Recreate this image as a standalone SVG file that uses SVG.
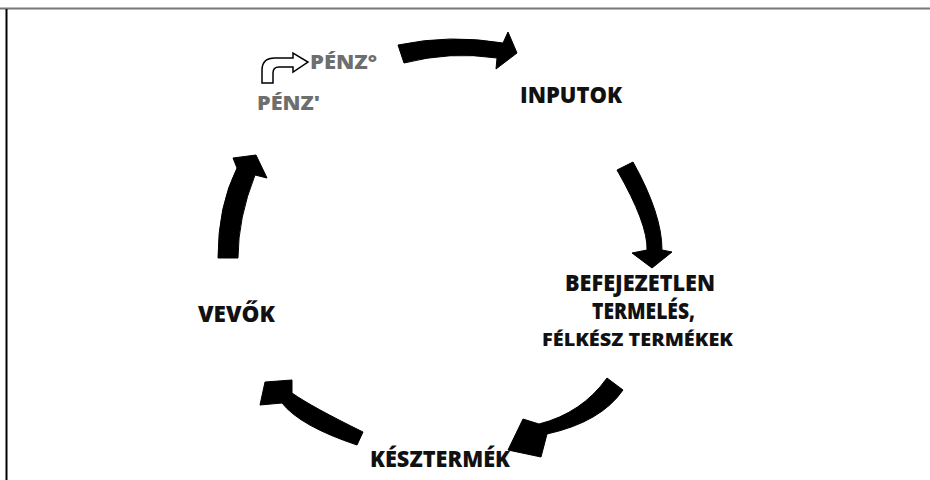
<svg xmlns="http://www.w3.org/2000/svg" width="930" height="480" viewBox="0 0 930 480">
  <style>
    .lbl { font-family: "Open Sans", "Liberation Sans", sans-serif; font-weight: 800; fill: #111; }
    .money { font-family: "Open Sans", "Liberation Sans", sans-serif; font-weight: 800; fill: #6e6e6e; font-size: 19px; }
    .arrow { fill: #000; stroke: #000; stroke-width: 1; stroke-linejoin: round; }
  </style>
  <rect x="0" y="0" width="930" height="480" fill="#fff"/>
  <line x1="0" y1="8.5" x2="930" y2="8.5" stroke="#777" stroke-width="2"/>
  <line x1="6.5" y1="9" x2="6.5" y2="480" stroke="#000" stroke-width="2"/>

  <g id="connectors">
    <path class="arrow" d="M398,45 Q450,34 503,43 L508,32 L517,53 L496,69 L497,58 Q450,51 404,63 Z"/>
    <path class="arrow" d="M617,170 Q648,224 647,250 L632,253 L652,268 L672,252 L662,250 Q662,214 633,162 Z"/>
    <path class="arrow" d="M607,378 Q582,413 539,424 L523,419 L508,450 L541,457 L547,434 Q601,422 623,390 Z"/>
    <path class="arrow" d="M363,432 Q312,407 292,393 L292,380 L265,382 L260,405 L282,403 Q300,426 357,445 Z"/>
    <path class="arrow" d="M218,258 Q218,206 237,168 L233,158 L256,155 L267,178 L255,175 Q238,218 238,258 Z"/>
  </g>

  <g id="penz">
    <path d="M262,83 L262,70 Q262,58 275,58 L293,58 L293,53 L308,62 L293,72 L293,67 L279,67 Q273,67 273,73 L273,83 Z" fill="#fff" stroke="#000" stroke-width="1.5" stroke-linejoin="miter"/>
    <text class="money" x="310" y="69" textLength="67" lengthAdjust="spacingAndGlyphs">PÉNZ°</text>
    <text class="money" x="257" y="110" textLength="63" lengthAdjust="spacingAndGlyphs">PÉNZ'</text>
  </g>

  <g id="inputok">
    <text class="lbl" x="520" y="103" font-size="22" textLength="102" lengthAdjust="spacingAndGlyphs">INPUTOK</text>
  </g>

  <g id="befejezetlen">
    <text class="lbl" x="565" y="291" font-size="22" textLength="150" lengthAdjust="spacingAndGlyphs">BEFEJEZETLEN</text>
    <text class="lbl" x="592" y="319" font-size="22" textLength="103" lengthAdjust="spacingAndGlyphs">TERMELÉS,</text>
    <text class="lbl" x="542" y="346" font-size="17" textLength="191" lengthAdjust="spacingAndGlyphs">FÉLKÉSZ TERMÉKEK</text>
  </g>

  <g id="késztermék">
    <text class="lbl" x="370" y="467" font-size="22" textLength="140" lengthAdjust="spacingAndGlyphs">KÉSZTERMÉK</text>
  </g>

  <g id="vevok">
    <text class="lbl" x="198" y="322" font-size="22" textLength="77" lengthAdjust="spacingAndGlyphs">VEVŐK</text>
  </g>
</svg>
